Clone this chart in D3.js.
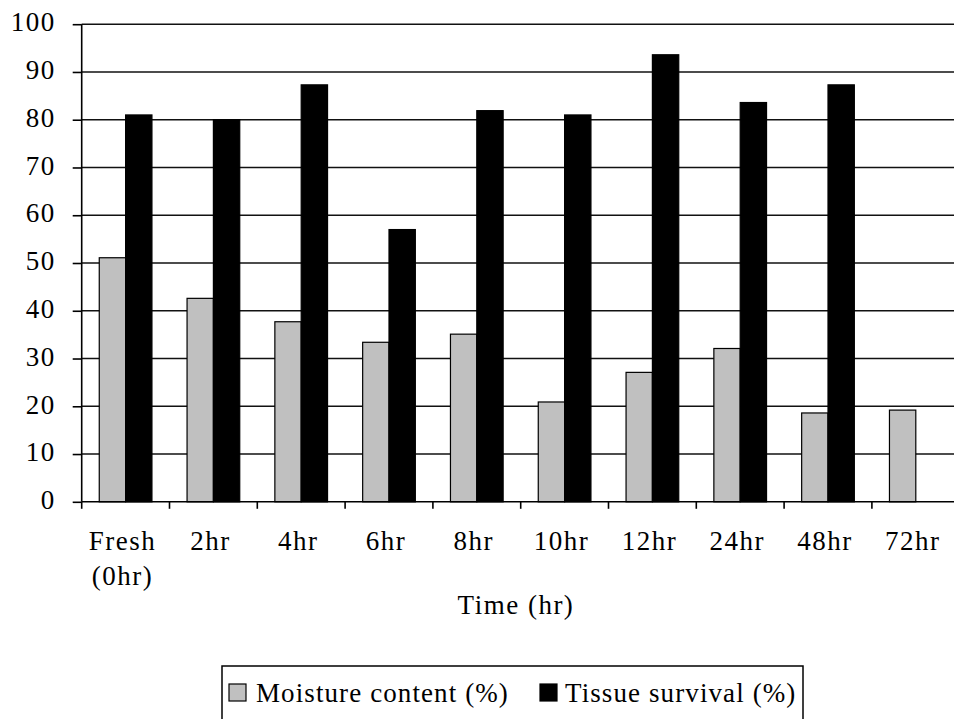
<!DOCTYPE html>
<html>
<head>
<meta charset="utf-8">
<script src="https://cdn.jsdelivr.net/npm/d3@7"></script>
<style>
  html, body { margin: 0; padding: 0; background: #fff; overflow: hidden; }
  svg { display: block; }
  text { font-family: "Liberation Serif", "Times New Roman", serif; font-size: 27px; letter-spacing: 1.5px; fill: #000; }
  .legend-label { letter-spacing: 1.1px; }
</style>
</head>
<body>
<svg id="chart" width="954" height="719"></svg>
<script>
// Drying time points and measured percentages
const categories = ["Fresh\n(0hr)", "2hr", "4hr", "6hr", "8hr", "10hr", "12hr", "24hr", "48hr", "72hr"];
const moisture = [51.1, 42.6, 37.7, 33.4, 35.1, 20.9, 27.1, 32.1, 18.6, 19.2];
const survival = [81.0, 80.0, 87.3, 57.0, 81.9, 81.0, 93.6, 83.6, 87.3, null];
const seriesNames = ["Moisture content (%)", "Tissue survival (%)"];
const seriesColors = ["#c0c0c0", "#000000"];
const yTicks = [0, 10, 20, 30, 40, 50, 60, 70, 80, 90, 100];

const svg = d3.select("#chart");
const plot = { left: 81.7, right: 959.7, top: 24.2, bottom: 501.8 };

const x0 = d3.scaleBand().domain(categories).range([plot.left, plot.right]).padding(0);
const bw = x0.bandwidth();
const x1 = d3.scaleBand().domain(seriesNames).range([bw * 0.2, bw * 0.8]).padding(0);
const y = d3.scaleLinear().domain([0, 100]).range([plot.bottom, plot.top]);

// Horizontal gridlines
svg.append("g")
  .selectAll("line")
  .data(yTicks.filter(d => d > 0))
  .join("line")
  .attr("x1", plot.left).attr("x2", plot.right)
  .attr("y1", d => y(d)).attr("y2", d => y(d))
  .attr("stroke", "#111").attr("stroke-width", 1.6);

// Bars
const rows = categories.map((c, i) => ({ cat: c, vals: [moisture[i], survival[i]] }));
const groups = svg.append("g").selectAll("g")
  .data(rows).join("g")
  .attr("transform", d => `translate(${x0(d.cat)},0)`);
groups.selectAll("rect")
  .data(d => d.vals.map((v, j) => ({ v, j })).filter(e => e.v != null))
  .join("rect")
  .attr("x", e => x1(seriesNames[e.j]))
  .attr("width", x1.bandwidth())
  .attr("y", e => y(e.v))
  .attr("height", e => y(0) - y(e.v))
  .attr("fill", e => seriesColors[e.j])
  .attr("stroke", "#000").attr("stroke-width", 1.2);

// Y axis
const yAxis = d3.axisLeft(y).tickValues(yTicks).tickSize(9).tickPadding(17).tickFormat(d3.format("d"));
const gy = svg.append("g").attr("transform", `translate(${plot.left},0)`).call(yAxis);
gy.select(".domain").attr("stroke", "#000").attr("stroke-width", 1.6).attr("d", `M0,${plot.top}V${plot.bottom}`);
gy.selectAll(".tick line").attr("stroke", "#000").attr("stroke-width", 1.6);
gy.selectAll(".tick text").attr("font-size", null).attr("font-family", null).attr("fill", "#000").attr("dy", "0.25em");

// X axis line with boundary ticks
svg.append("line")
  .attr("x1", plot.left).attr("x2", plot.right)
  .attr("y1", plot.bottom).attr("y2", plot.bottom)
  .attr("stroke", "#000").attr("stroke-width", 1.6);
svg.append("g").selectAll("line")
  .data(categories)
  .join("line")
  .attr("x1", d => x0(d)).attr("x2", d => x0(d))
  .attr("y1", plot.bottom).attr("y2", plot.bottom + 7)
  .attr("stroke", "#000").attr("stroke-width", 1.6);

// Category labels (multi-line)
const xl = svg.append("g").selectAll("text")
  .data(categories).join("text")
  .attr("text-anchor", "middle")
  .attr("transform", d => `translate(${x0(d) + bw / 2 - 3},550)`);
xl.selectAll("tspan")
  .data(d => d.split("\n"))
  .join("tspan")
  .attr("x", 0)
  .attr("dy", (d, i) => i === 0 ? 0 : 35)
  .text(d => d);

// Axis title
svg.append("text")
  .attr("x", 516).attr("y", 614)
  .attr("text-anchor", "middle")
  .text("Time (hr)");

// Legend
const legend = svg.append("g");
legend.append("rect")
  .attr("x", 222).attr("y", 666).attr("width", 581).attr("height", 70)
  .attr("fill", "#fff").attr("stroke", "#000").attr("stroke-width", 1.5);
const legendX = [[229, 256], [540, 565]];
seriesNames.forEach((name, i) => {
  legend.append("rect")
    .attr("x", legendX[i][0]).attr("y", 684)
    .attr("width", 17).attr("height", 17)
    .attr("fill", seriesColors[i]).attr("stroke", "#000").attr("stroke-width", 1.2);
  legend.append("text")
    .attr("class", "legend-label")
    .attr("x", legendX[i][1]).attr("y", 702)
    .text(name);
});
</script>
</body>
</html>
